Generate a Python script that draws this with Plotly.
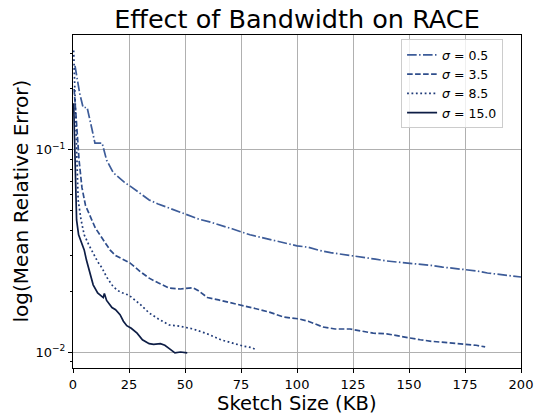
import plotly.graph_objects as go

# sigma = 0.5 (dash-dot)
x_s05 = [0.9, 2, 3, 4.5, 6.3, 8.5, 9.8, 13, 15, 18, 20, 23, 26, 30, 34, 38, 42, 46, 51, 56, 61, 66, 71, 76, 79,
         83.5, 90, 95, 100, 105, 110, 115, 120, 125, 130, 135, 140, 145, 150, 155, 160, 165, 170, 175, 180,
         185, 190, 195, 200]
y_s05 = [0.26, 0.22, 0.19, 0.162, 0.162, 0.126, 0.108, 0.108, 0.089, 0.077, 0.0735, 0.069, 0.0656, 0.061, 0.0565,
         0.054, 0.052, 0.05, 0.0478, 0.0455, 0.044, 0.0425, 0.0407, 0.039, 0.038, 0.037, 0.0355, 0.0345, 0.0335,
         0.033, 0.0318, 0.031, 0.0305, 0.0299, 0.0293, 0.0288, 0.0282, 0.0279, 0.0275, 0.0272, 0.0268, 0.0263,
         0.026, 0.0257, 0.0252, 0.0246, 0.0242, 0.0238, 0.0235]

# sigma = 3.5 (dashed)
x_s35 = [0.5, 1, 1.8, 2.7, 4, 5.6, 8, 10, 12, 14, 16.5, 19, 22, 25.4, 30, 34, 38, 43, 48, 53.6, 56, 60, 65, 70,
         74.6, 79, 83.5, 88, 94, 100.6, 105, 111.6, 117, 123.7, 129, 134, 140, 145, 150, 155, 160, 168, 175,
         180, 184]
y_s35 = [0.2, 0.16, 0.125, 0.089, 0.065, 0.053, 0.046, 0.041, 0.038, 0.035, 0.032, 0.030, 0.0288, 0.0276, 0.025,
         0.0232, 0.022, 0.0207, 0.0205, 0.0208, 0.0201, 0.0186, 0.0181, 0.0176, 0.0171, 0.0167, 0.0162, 0.0157,
         0.0149, 0.0146, 0.0142, 0.0133, 0.013, 0.013, 0.0127, 0.0124, 0.0123, 0.012, 0.0117, 0.0115, 0.0113,
         0.0111, 0.011, 0.0108, 0.0106]

# sigma = 8.5 (dotted)
x_s85 = [0.3, 0.8, 1.5, 2.3, 3.6, 5, 7, 9, 11, 13, 15, 18, 21, 25, 30, 34, 38, 43, 48, 53.6, 60, 66, 72, 76, 80, 82]
y_s85 = [0.31, 0.2, 0.1, 0.0565, 0.045, 0.038, 0.034, 0.031, 0.028, 0.026, 0.0235, 0.021, 0.0198, 0.0191, 0.0172,
         0.0156, 0.0146, 0.0136, 0.0134, 0.013, 0.0123, 0.0115, 0.011, 0.0107, 0.0105, 0.0102]

# sigma = 15.0 (solid)
x_s15 = [0.3, 0.8, 1.6, 2.5, 3.9, 5, 6, 7, 8, 9, 11, 12.5, 13.5, 14, 15, 17.4, 19, 21, 22.5, 24, 26, 28.6, 31,
         34, 36, 39, 41, 43, 45.5, 48, 51]
y_s15 = [0.17, 0.09, 0.045, 0.038, 0.034, 0.032, 0.0285, 0.026, 0.0235, 0.0215, 0.0196, 0.019, 0.0186, 0.0195,
         0.018, 0.0166, 0.0162, 0.0153, 0.0142, 0.0135, 0.0131, 0.0124, 0.0115, 0.011, 0.0109, 0.011, 0.0108,
         0.0104, 0.0099, 0.01, 0.0099]

labels = ["<i>σ</i> = 0.5", "<i>σ</i> = 3.5", "<i>σ</i> = 8.5", "<i>σ</i> = 15.0"]
x_ticks = [0, 25, 50, 75, 100, 125, 150, 175, 200]
y_ticks = [0.01, 0.1]
y_ticktext = ["10<sup>−2</sup>", "10<sup>−1</sup>"]

series = [(x_s05, y_s05, "9.6px,2.4px,1.5px,2.4px", "#3d5c99"),
          (x_s35, y_s35, "5.6px,2.4px", "#2f4e8c"),
          (x_s85, y_s85, "1.8px,2.6px", "#1f3a78"),
          (x_s15, y_s15, "solid", "#0d1d45")]

font = "DejaVu Sans"
fig = go.Figure()
for (xs, ys, dash, color), name in zip(series, labels):
    fig.add_trace(go.Scatter(x=xs, y=ys, mode="lines", name=name,
                             line=dict(color=color, dash=dash, width=1.7)))

minor_vals = [v * 0.01 for v in range(2, 10)] + [0.2, 0.3] + [0.009]

fig.update_layout(
    width=534, height=414,
    margin=dict(l=73, r=13, t=35, b=46),
    paper_bgcolor="white", plot_bgcolor="white",
    font=dict(family=font, color="black", size=12),
    title=dict(text="Effect of Bandwidth on RACE", x=0.5, xref="paper", xanchor="center",
               y=0.955, yref="container", yanchor="middle", font=dict(size=25.5, family=font)),
    legend=dict(x=0.96, y=0.987, xanchor="right", yanchor="top", bgcolor="rgba(255,255,255,0.8)",
                bordercolor="#cccccc", borderwidth=1, font=dict(size=12.5, family=font),
                tracegroupgap=0, itemwidth=30),
    showlegend=True,
    annotations=[
        dict(text="Sketch Size (KB)", xref="paper", yref="paper", x=0.5, y=0, xanchor="center",
             yanchor="middle", yshift=-35, showarrow=False, font=dict(size=19.5, family=font)),
        dict(text="log(Mean Relative Error)", xref="paper", yref="paper", x=0, y=0.5, xanchor="center",
             yanchor="middle", xshift=-53, textangle=-90, showarrow=False, font=dict(size=20, family=font)),
    ],
)
fig.update_xaxes(range=[0, 200], tickvals=x_ticks, ticks="outside", ticklen=4, tickcolor="black",
                 showline=True, mirror=True, linecolor="black", linewidth=1, automargin=False,
                 showgrid=True, gridcolor="#b0b0b0", gridwidth=1, zeroline=False,
                 tickfont=dict(size=13))
fig.update_yaxes(type="log", range=[-2.079, -0.432], tickvals=y_ticks, ticktext=y_ticktext,
                 ticks="outside", ticklen=4, tickcolor="black", automargin=False,
                 showline=True, mirror=True, linecolor="black", linewidth=1,
                 showgrid=True, gridcolor="#b0b0b0", gridwidth=1, zeroline=False,
                 tickfont=dict(size=13),
                 minor=dict(tickvals=minor_vals, ticks="outside", ticklen=2.5, tickcolor="black", showgrid=False))

# remove the page's default body margin so the figure fills the window exactly
fig.write_html("out.html", config={"displayModeBar": False},
               post_script="document.body.style.margin='0';document.body.style.overflow='hidden';")
